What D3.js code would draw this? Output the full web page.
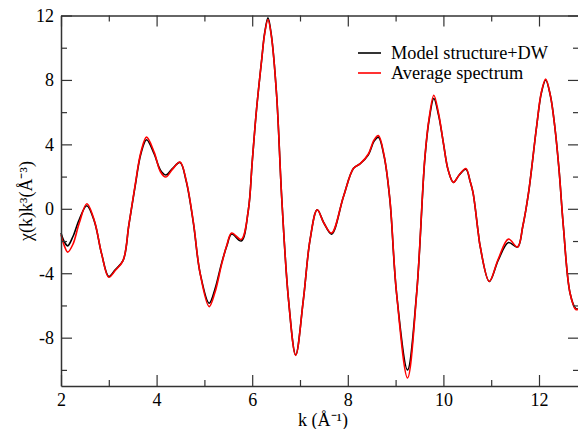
<!DOCTYPE html>
<html><head><meta charset="utf-8">
<script src="https://cdn.jsdelivr.net/npm/d3@7"></script>
<style>body{margin:0;background:#fff;} svg{display:block;} text{font-family:"Liberation Serif","Times New Roman",Times,serif;}</style>
</head><body>
<script>
const kValues = [2.00,2.07,2.14,2.25,2.38,2.54,2.70,2.85,3.00,3.13,3.30,3.42,3.55,3.67,3.79,3.95,4.08,4.19,4.33,4.49,4.62,4.77,4.91,5.10,5.22,5.36,5.47,5.57,5.77,5.92,6.00,6.09,6.20,6.26,6.33,6.40,6.51,6.62,6.76,6.91,7.07,7.21,7.36,7.50,7.66,7.91,8.12,8.26,8.43,8.55,8.64,8.76,8.88,9.02,9.25,9.44,9.61,9.70,9.80,9.90,10.00,10.10,10.21,10.33,10.47,10.56,10.62,10.73,10.77,10.96,11.15,11.36,11.55,11.66,11.78,11.95,12.05,12.14,12.24,12.33,12.42,12.51,12.65,12.77,12.84];
const modelValues = [-1.5,-2.05,-2.3,-1.72,-0.68,0.19,-0.8,-2.8,-4.2,-3.8,-3.2,-1.0,1.39,3.4,4.29,3.4,2.4,2.1,2.5,2.88,1.7,-0.89,-3.99,-5.86,-5.0,-3.37,-2.3,-1.57,-2.0,-0.06,2.9,6.15,9.3,10.9,11.85,10.8,7.1,0.56,-5.65,-9.07,-5.65,-1.93,-0.06,-0.88,-1.57,0.77,2.52,2.8,3.35,4.2,4.45,3.25,0.56,-5.24,-10.0,-5.24,3.04,5.5,6.85,5.8,4.08,2.4,1.64,2.1,2.45,1.7,1.0,-1.51,-2.34,-4.51,-3.17,-2.09,-2.38,-1.1,0.97,5.11,7.2,8.0,7.0,5.11,2.4,-1.1,-5.24,-6.2,-6.2];
const averageValues = [-1.6,-2.3,-2.69,-2.2,-0.9,0.31,-0.75,-2.8,-4.25,-3.85,-3.2,-1.0,1.45,3.5,4.45,3.5,2.3,1.97,2.45,2.9,1.75,-0.85,-4.0,-6.07,-5.2,-3.45,-2.25,-1.5,-1.9,-0.06,2.9,6.15,9.3,10.85,11.75,10.75,7.1,0.56,-5.65,-9.1,-5.65,-1.93,-0.06,-0.88,-1.5,0.77,2.52,2.8,3.4,4.28,4.55,3.3,0.6,-5.24,-10.5,-5.3,3.1,5.6,7.05,5.9,4.08,2.4,1.64,2.1,2.5,1.7,1.0,-1.51,-2.34,-4.51,-3.1,-1.88,-2.38,-1.1,0.97,5.11,7.25,8.05,7.0,5.11,2.4,-1.1,-5.24,-6.25,-6.2];
const xTicks = [2,4,6,8,10,12];
const yTicks = [-8,-4,0,4,8,12];
const seriesNames = ["Model structure+DW","Average spectrum"];
const seriesColors = ["#000000","#ff0000"];

(function () {
const W = 578, H = 429;
const svg = d3.select("body").append("svg").attr("width", W).attr("height", H);
const pl = 61, pr = 579, pt = 15.5, pb = 386;
const x = d3.scaleLinear().domain([2, 2 + (pr - pl) / 47.8]).range([pl, pr]);
const y = d3.scaleLinear().domain([-11, 12]).range([pb, pt]);
const font = '"Liberation Serif","Times New Roman",Times,serif';
const axisColor = "#333";

const xMinor = d3.range(3, 13, 2);
const yMinor = d3.range(-10, 12, 4);

const g = svg.append("g");
const series = [modelValues, averageValues];
series.forEach((vals, i) => {
  const data = kValues.map((k, j) => [k, vals[j]]);
  const line = d3.line().x(d => x(d[0])).y(d => y(d[1])).curve(d3.curveCatmullRom.alpha(0.5));
  g.append("path").datum(data).attr("d", line).attr("fill", "none")
    .attr("stroke", seriesColors[i]).attr("stroke-width", 1.6);
});

function addAxis(axisGen, tx, ty, major, minor) {
  const a = svg.append("g").attr("transform", `translate(${tx},${ty})`);
  a.call(axisGen.tickValues(major).tickSizeInner(-11).tickSizeOuter(0).tickPadding(7).tickFormat(d => String(d)));
  a.attr("font-family", null).attr("font-size", null);
  a.selectAll("path").attr("stroke", axisColor).attr("stroke-width", 1.5);
  a.selectAll("line").attr("stroke", axisColor).attr("stroke-width", 1.2);
  const m = svg.append("g").attr("transform", `translate(${tx},${ty})`);
  m.call(axisGen.tickValues(minor).tickSizeInner(-6).tickSizeOuter(0).tickFormat(""));
  m.select("path").remove();
  m.selectAll("line").attr("stroke", axisColor).attr("stroke-width", 1.2);
  return a;
}
const xb = addAxis(d3.axisBottom(x), 0, pb, xTicks, xMinor);
const xt = addAxis(d3.axisTop(x), 0, pt, xTicks, xMinor);
const yl = addAxis(d3.axisLeft(y), pl, 0, yTicks, yMinor);
const yr = addAxis(d3.axisRight(y), pr, 0, yTicks, yMinor);
xt.selectAll("text").remove();
yr.selectAll("text").remove();
xb.selectAll("text").style("font-family", font).style("font-size", "18px").attr("fill", "#000");
yl.selectAll("text").style("font-family", font).style("font-size", "18px").attr("fill", "#000");

svg.append("text").attr("x", 323).attr("y", 426).attr("text-anchor", "middle")
  .style("font-family", font).style("font-size", "18px").text("k (Å⁻¹)");
svg.append("text").attr("transform", "translate(32,201) rotate(-90)").attr("text-anchor", "middle")
  .style("font-family", font).style("font-size", "18px").text("χ(k)k³(Å⁻³)");

seriesNames.forEach((name, i) => {
  const ly = 53 + i * 20;
  svg.append("line").attr("x1", 358).attr("x2", 381).attr("y1", ly).attr("y2", ly)
    .attr("stroke", seriesColors[i]).attr("stroke-width", 1.6);
  svg.append("text").attr("x", 391).attr("y", ly + 6).style("font-family", font)
    .style("font-size", "18.3px").attr("fill", "#000").text(name);
});
})();
</script>
</body></html>
